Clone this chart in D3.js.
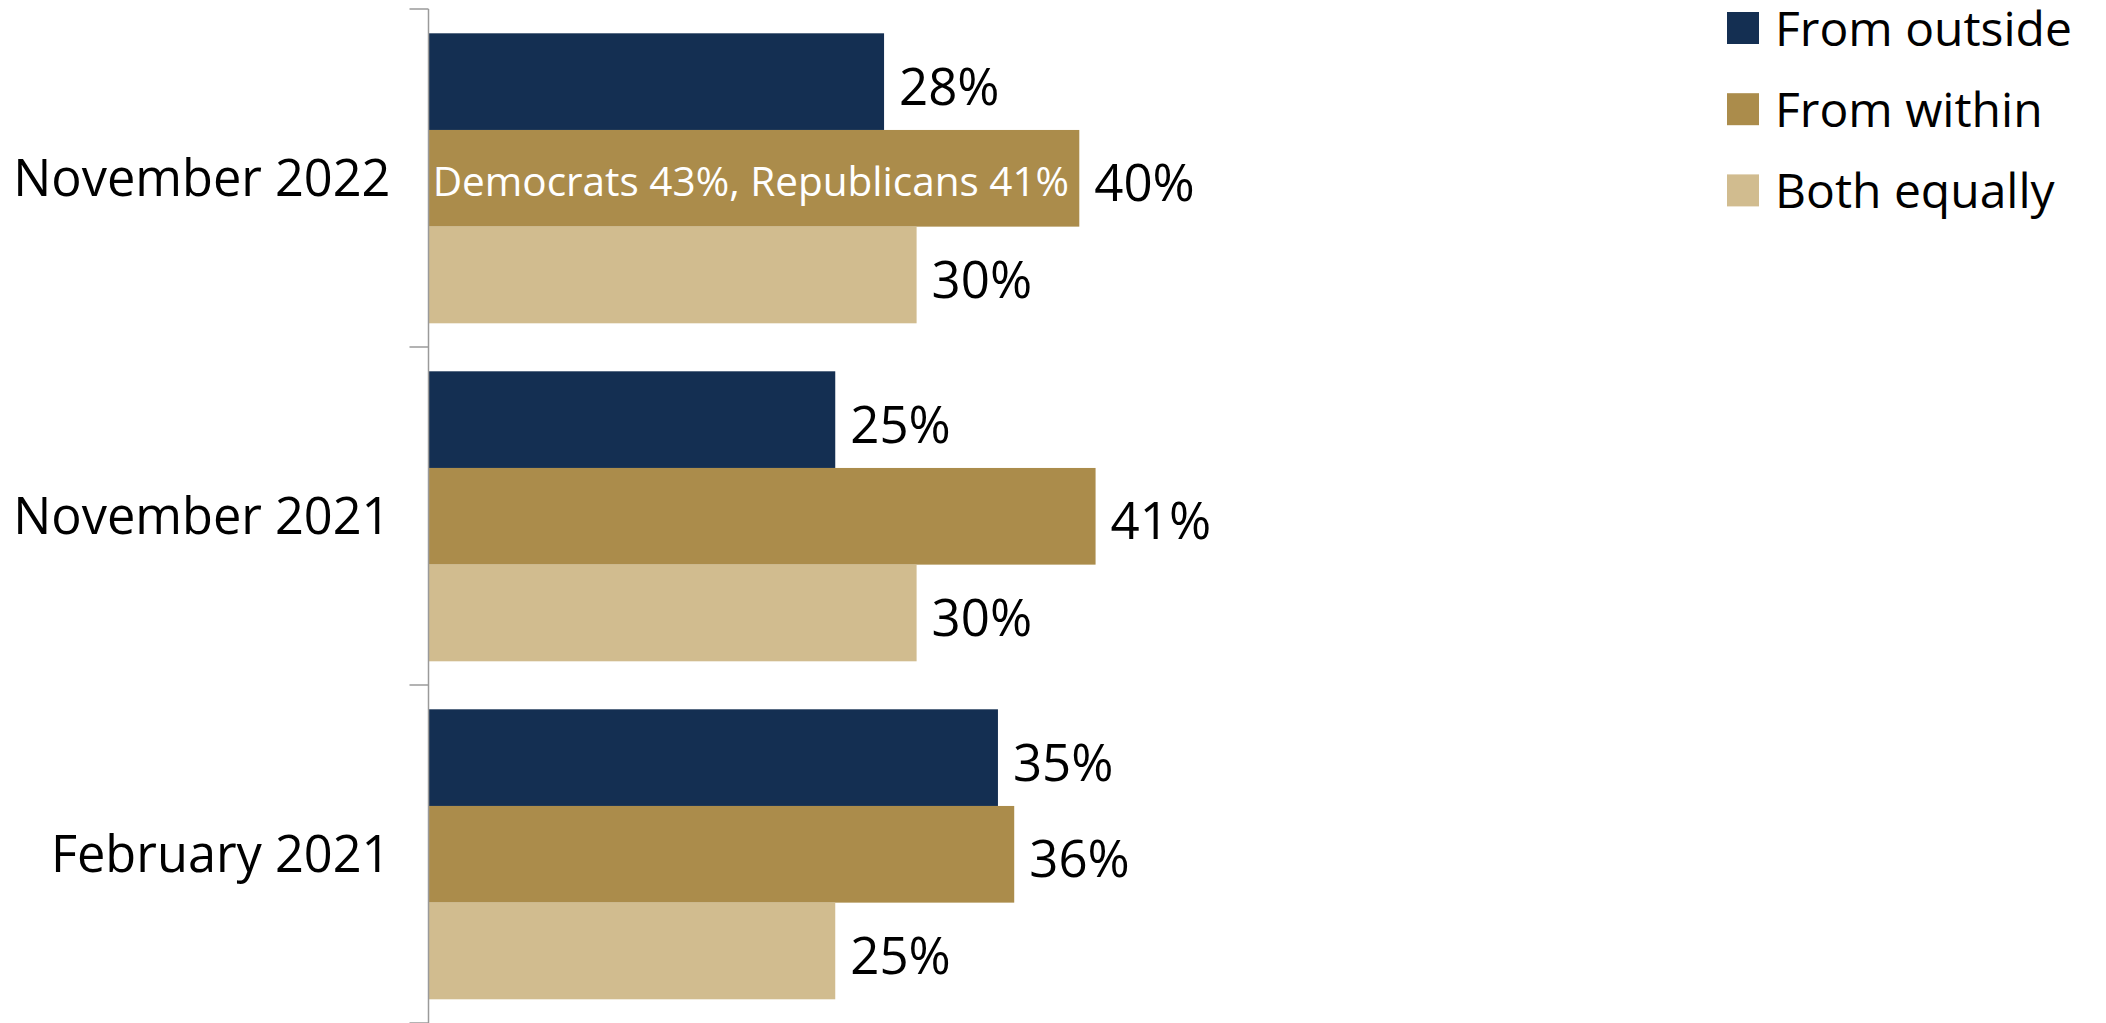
<!DOCTYPE html>
<html>
<head>
<meta charset="utf-8">
<script src="https://cdn.jsdelivr.net/npm/d3@7"></script>
<style>
  html, body { margin: 0; padding: 0; background: #fff; }
  svg { display: block; }
  text { font-family: "Open Sans", "Noto Sans", sans-serif; }
</style>
</head>
<body>
<svg id="chart" width="2106" height="1023"></svg>
<script>
const categories = ["November 2022", "November 2021", "February 2021"];
const seriesNames = ["From outside", "From within", "Both equally"];
const fromOutside = [28, 25, 35];
const fromWithin = [40, 41, 36];
const bothEqually = [30, 30, 25];
const seriesColors = ["#142f52", "#ab8c4b", "#d1bc8f"];
const annotationText = "Democrats 43%, Republicans 41%";
const annotationCategory = "November 2022";
const annotationSeries = "From within";

const values = [fromOutside, fromWithin, bothEqually];
const data = categories.map((c, i) => ({
  category: c,
  bars: seriesNames.map((s, j) => ({ series: s, value: values[j][i], color: seriesColors[j] }))
}));

const svg = d3.select("#chart");
const axisX = 428.5;
const plotTop = 9, plotBottom = 1023;

const x = d3.scaleLinear().domain([0, 100]).range([axisX, axisX + 1627]);
const y0 = d3.scaleBand().domain(categories).range([plotTop, plotBottom]).padding(0);
const bw = y0.bandwidth();
const y1 = d3.scaleBand().domain(seriesNames).range([24.3, bw - 23.7]).padding(0);

// bars
const groups = svg.append("g").selectAll("g").data(data).join("g")
  .attr("transform", d => `translate(0,${y0(d.category)})`);

groups.selectAll("rect").data(d => d.bars).join("rect")
  .attr("x", x(0))
  .attr("y", d => y1(d.series))
  .attr("width", d => x(d.value) - x(0))
  .attr("height", y1.bandwidth())
  .attr("fill", d => d.color);

// value labels
groups.selectAll("text.val").data(d => d.bars).join("text")
  .attr("class", "val")
  .attr("x", d => x(d.value) + 15)
  .attr("y", d => y1(d.series) + y1.bandwidth() / 2 + 3)
  .attr("dominant-baseline", "central")
  .attr("font-size", 51)
  .attr("fill", "#000")
  .text(d => d.value + "%");

// annotation inside bar
svg.append("text")
  .attr("x", (x(0) + x(fromWithin[categories.indexOf(annotationCategory)])) / 2 - 3)
  .attr("y", y0(annotationCategory) + y1(annotationSeries) + y1.bandwidth() / 2 + 2)
  .attr("text-anchor", "middle")
  .attr("dominant-baseline", "central")
  .attr("font-size", 40.5)
  .attr("fill", "#fff")
  .text(annotationText);

// axis
const axis = d3.axisLeft(y0).tickSize(0).tickPadding(38);
const axisG = svg.append("g").attr("transform", `translate(${axisX},0)`).call(axis);
axisG.select(".domain").attr("stroke", "#9a9a9a").attr("stroke-width", 1.5)
  .attr("d", `M0,${plotTop}V${plotBottom}`);
axisG.selectAll(".tick text")
  .attr("font-size", 50.5)
  .attr("font-family", "'Open Sans', 'Noto Sans', sans-serif")
  .attr("fill", "#000")
  .attr("dy", "0.36em");

// boundary ticks
const boundaries = categories.map(c => y0(c)).concat([y0.range()[1]]);
svg.append("g").selectAll("line").data(boundaries).join("line")
  .attr("x1", axisX - 19).attr("x2", axisX)
  .attr("y1", d => d).attr("y2", d => d)
  .attr("stroke", "#9a9a9a").attr("stroke-width", 1.5);

// legend
const legend = svg.append("g").attr("transform", "translate(1727,12)");
const li = legend.selectAll("g").data(seriesNames).join("g")
  .attr("transform", (d, i) => `translate(0,${i * 81.2})`);
li.append("rect").attr("width", 32).attr("height", 32)
  .attr("fill", (d, i) => seriesColors[i]);
li.append("text")
  .attr("x", 48).attr("y", 15)
  .attr("dominant-baseline", "central")
  .attr("font-size", 48)
  .attr("fill", "#000")
  .text(d => d);
</script>
</body>
</html>
